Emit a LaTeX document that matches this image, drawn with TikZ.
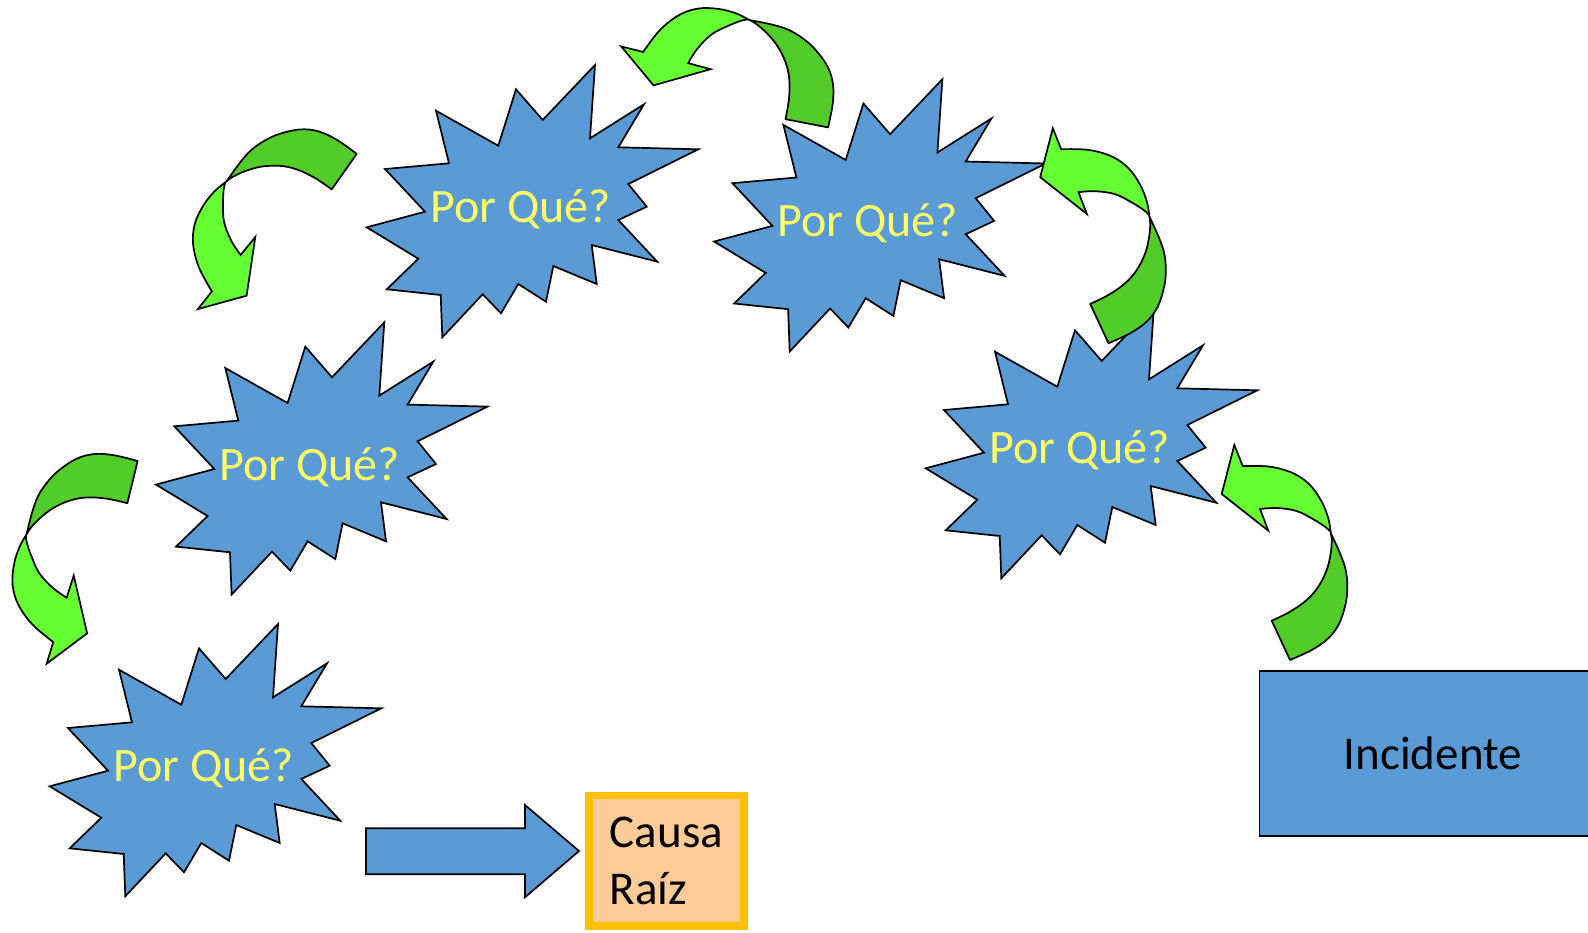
\documentclass[tikz,border=0pt]{standalone}
\usepackage{fontspec}
\setmainfont{Carlito}
\definecolor{pqblue}{RGB}{91,155,213}
\definecolor{pqyellow}{RGB}{255,255,102}
\definecolor{greenL}{RGB}{102,255,51}
\definecolor{greenD}{RGB}{82,204,41}
\definecolor{peach}{RGB}{255,204,153}
\definecolor{gold}{RGB}{255,192,0}
\tikzset{
  explbody/.style={draw=black, fill=pqblue, line width=1.7pt},
  whytext/.style={text=pqyellow, font=\fontsize{48}{58}\selectfont, inner sep=0pt},
  arrowdark/.style={draw=black, fill=greenD, line width=1.7pt, line join=round},
  arrowlight/.style={draw=black, fill=greenL, line width=1.7pt, line join=miter},
  explosion/.pic={
    \draw[explbody] (75,-142) -- (70,-68.7) -- (124,-102.7) -- (98.3,-59.7) -- (178.3,-57.7) -- (108.3,-23) -- (126.7,-0.3) -- (98.3,13) -- (137.3,54.7) -- (71.7,38) -- (76.7,77) -- (33.3,59) -- (26,94.7) -- (-1.7,77) -- (-19,106.3) -- (-37.3,87.3) -- (-77.7,130.3) -- (-79.3,88) -- (-133.3,82.3) -- (-101.7,51.7) -- (-153.3,20.3) -- (-95,4.7) -- (-135,-38) -- (-71,-43.7) -- (-84,-96.3) -- (-21.7,-61.3) -- (-4,-117.7) -- (22.7,-87) -- cycle;
  },
  curvarrow/.pic={
    \begin{scope}[shift={(-1280.8,-640.3)}]
      \draw[arrowdark] (1330.7,533)
        -- plot[smooth, tension=0.6] coordinates {(1330.7,533) (1340,553.3) (1345.7,570) (1347.3,586.7) (1345.7,603.3) (1339.3,623.3) (1328.3,638.3) (1311.7,650) (1290,660)}
        -- (1271.7,620.7)
        -- plot[smooth, tension=0.6] coordinates {(1271.7,620.7) (1290,611.7) (1306.7,600) (1318.3,586.7) (1326.7,570) (1330.7,553.3) (1331.7,540) (1330.7,533)}
        -- cycle;
      \draw[arrowlight] (1234.3,445) -- (1242.7,466)
        -- plot[smooth, tension=0.6] coordinates {(1242.7,466) (1270,466.7) (1293.3,473.3) (1310,485) (1321.7,501.7) (1328.3,518.3) (1330.7,532)}
        -- plot[smooth, tension=0.6] coordinates {(1330.7,532) (1325,526.7) (1313.3,519.3) (1296.7,511) (1276.7,508) (1260,509)}
        -- (1268.3,530.7) -- (1221.7,494) -- cycle;
    \end{scope}
  }
}
\begin{document}
\begin{tikzpicture}[x=1pt,y=-1pt]
\useasboundingbox (0,0) rectangle (1588,932);
\clip (0,0) rectangle (1588,932);

% explosions
\pic at (520,207) {explosion};
\node[whytext] (e1) at (520.5,209.5) {Por Qué?};
\pic at (867.4,221.2) {explosion};
\node[whytext] (e2) at (867.9,223.7) {Por Qué?};
\pic at (309.3,464.3) {explosion};
\node[whytext] (e3) at (309.8,466.8) {Por Qué?};
\pic at (203,766) {explosion};
\node[whytext] (e4) at (203.5,768.5) {Por Qué?};
\pic at (1079,448) {explosion};
\node[whytext] (e5) at (1079.5,450.5) {Por Qué?};

% incidente
\node[draw=black, fill=pqblue, line width=1.7pt, minimum width=347pt, minimum height=165pt,
      font=\fontsize{47}{57.5}\selectfont, anchor=north west] (inc) at (1258.5,670) {Incidente};

% causa raiz
\node[draw=gold, fill=peach, line width=7.5pt, minimum width=154.7pt, minimum height=130.5pt,
      font=\fontsize{47}{57.5}\selectfont, align=left, inner sep=0pt] (causa) at (666.4,860.8) {Causa\\Raíz};

% block arrow
\coordinate (ba) at (366,851);
\draw[draw=black, fill=pqblue, line width=1.7pt]
  (366,828.3) -- (525,828.3) -- (525,805) -- (579,851) -- (525,897.3) -- (525,874.3) -- (366,874.3) -- cycle;

% curved arrows
\pic at (1280.8,640.3) {curvarrow};
\pic at (1099.3,323.5) {curvarrow};
\pic[rotate=54.1] at (806.7,123.3) {curvarrow};
\pic[rotate=119.8] at (344.2,171.7) {curvarrow};
\pic[rotate=141.3] at (132.5,482.2) {curvarrow};
\end{tikzpicture}
\end{document}
